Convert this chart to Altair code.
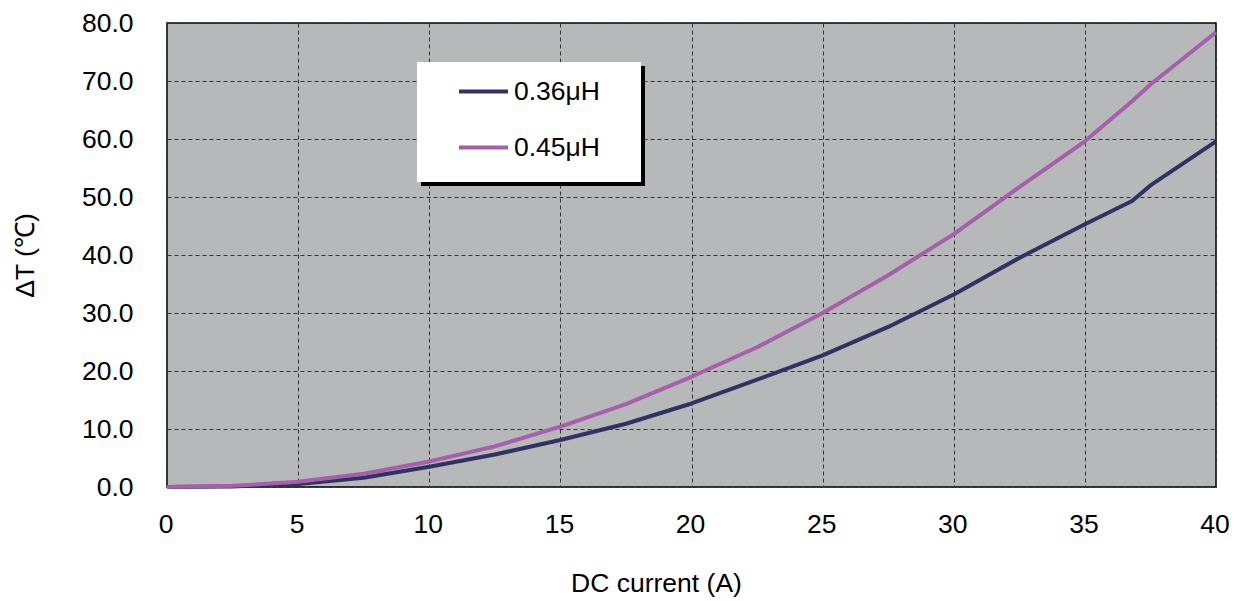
import altair as alt
import pandas as pd

current = [0, 2.5, 5, 7.5, 10, 12.5, 15, 17.5, 20, 22.5, 25, 27.5, 30, 32.5, 35, 36.8, 37.5, 40]
dt_036 = [0.0, 0.1, 0.5, 1.6, 3.5, 5.6, 8.1, 10.9, 14.4, 18.5, 22.7, 27.6, 33.2, 39.5, 45.3, 49.3, 52.0, 59.6]
dt_045 = [0.0, 0.2, 0.9, 2.3, 4.4, 7.0, 10.4, 14.3, 19.0, 24.1, 30.0, 36.5, 43.6, 51.7, 59.6, 66.5, 69.4, 78.4]
series = ["0.36μH", "0.45μH"]
colors = ["#303264", "#A65FAA"]

rows = []
for name, vals in zip(series, [dt_036, dt_045]):
    for x, y in zip(current, vals):
        rows.append({"current": x, "dT": y, "series": name})
df = pd.DataFrame(rows)

FONT = "Liberation Sans"
FS = 26.5
W, H = 1049, 464

lines = alt.Chart(df).mark_line(strokeWidth=4, strokeJoin="round").encode(
    x=alt.X("current:Q", scale=alt.Scale(domain=[0, 40], nice=False),
            axis=alt.Axis(values=list(range(0, 41, 5)), title="DC current (A)",
                          titleX=489, titleY=104, titleBaseline="alphabetic",
                          titleAlign="center", labelPadding=24, labelFlush=False,
                          labelOffset=-1.5)),
    y=alt.Y("dT:Q", scale=alt.Scale(domain=[0, 80], nice=False),
            axis=alt.Axis(values=list(range(0, 81, 10)), format=".1f", title="ΔT (℃)",
                          titleX=-142, titleY=H / 2, titleAngle=-90, labelFlush=False,
                          titleAlign="center", titleBaseline="middle", labelPadding=34)),
    color=alt.Color("series:N", scale=alt.Scale(domain=series, range=colors),
                    legend=alt.Legend(title=None, orient="none", legendX=250, legendY=38,
                                      symbolType="stroke", symbolSize=2401, symbolStrokeWidth=4,
                                      labelFontSize=FS, labelFont=FONT, labelColor="#000000",
                                      padding=4, symbolOffset=36,
                                      labelOffset=4, rowPadding=16, labelLimit=300)),
)

shadow = alt.Chart(df).mark_rect(color="black").encode(
    x=alt.value(254), x2=alt.value(478), y=alt.value(43), y2=alt.value(163)
)
box = alt.Chart(df).mark_rect(color="white").encode(
    x=alt.value(250), x2=alt.value(474), y=alt.value(39), y2=alt.value(159)
)

chart = alt.layer(shadow, box, lines).properties(
    width=W, height=H,
    autosize=alt.AutoSizeParams(type="none"),
    padding={"left": 159, "top": 15, "right": 14, "bottom": 110},
).configure_view(
    fill="#B7B8BA", stroke="black", strokeWidth=1.5
).configure_axis(
    grid=True, gridColor="#333333", gridDash=[4, 3], gridWidth=1, gridOpacity=1,
    domain=False, ticks=False,
    labelFont=FONT, labelFontSize=FS, labelColor="#000000",
    titleFont=FONT, titleFontSize=FS, titleColor="#000000", titleFontWeight="normal",
)

chart.save("out.html", embed_options={"renderer": "svg", "actions": False})
